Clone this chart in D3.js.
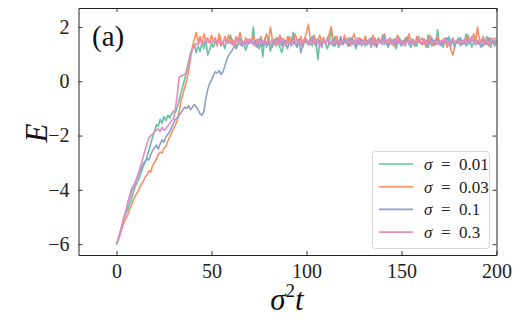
<!DOCTYPE html>
<html>
<head>
<meta charset="utf-8">
<script src="https://cdn.jsdelivr.net/npm/d3@7"></script>
<style>
  body { margin: 0; background: #fff; }
  svg { display: block; font-family: "Liberation Serif", "DejaVu Serif", serif; }
</style>
</head>
<body>
<div id="chart"></div>
<script>
// sample grid in sigma^2 t (one sample per unit)
const times = d3.range(0, 201);

const sigmaLabels = ["0.01", "0.03", "0.1", "0.3"];
const colors = ["#66c2a5", "#fc8d62", "#8da0cb", "#e78ac3"];

const xTicks = [0, 50, 100, 150, 200];
const yTicks = [-6, -4, -2, 0, 2];

const eSigma001 = [
  -6.00,-5.78,-5.55,-5.30,-5.05,-4.85,-4.70,-4.52,-4.30,-4.05,-3.85,
  -3.70,-3.55,-3.35,-3.15,-3.00,-2.80,-2.55,-2.30,-2.05,-1.85,
  -1.60,-1.65,-1.40,-1.55,-1.30,-1.45,-1.25,-1.35,-1.20,-1.10,
  -1.15,-0.95,-0.70,-0.40,-0.15,0.10,0.45,0.75,1.05,1.20,
  1.35,1.05,1.30,1.10,1.45,1.20,1.55,0.96,1.15,1.40,
  1.25,1.50,1.35,1.60,1.30,1.45,1.20,1.55,1.40,1.70,
  1.35,1.50,1.25,1.45,1.60,1.30,1.40,1.15,1.35,1.55,
  1.40,2.00,1.30,1.50,1.20,1.45,0.90,1.60,1.25,1.50,
  1.10,1.40,1.55,1.30,1.45,1.25,1.05,1.35,1.50,1.40,
  1.65,1.35,1.80,1.45,1.30,1.55,1.40,1.25,1.60,1.45,
  1.35,1.55,1.30,1.70,1.45,0.80,1.50,1.35,1.60,1.40,
  1.20,1.45,2.00,1.30,1.65,1.40,1.25,1.50,1.35,1.55,
  1.45,1.30,1.60,1.35,1.50,1.20,1.45,1.55,1.30,1.40,
  1.65,1.35,1.50,1.25,1.45,1.60,1.30,1.55,1.40,1.70,
  1.35,1.50,1.25,1.45,1.35,1.55,1.20,1.40,1.60,1.35,
  1.50,1.30,1.65,1.40,1.25,1.55,1.45,1.30,1.60,1.40,
  1.35,1.55,1.25,1.70,1.45,1.30,1.50,1.40,1.90,1.35,
  1.45,1.25,1.55,1.40,1.65,1.30,1.50,1.35,1.45,1.60,
  1.30,1.50,1.40,1.75,1.35,1.55,1.25,1.45,1.60,1.40,
  1.35,1.55,1.30,1.50,1.65,1.40,1.25,1.55,1.45,1.50
];

const eSigma003 = [
  -6.00,-5.85,-5.62,-5.40,-5.20,-5.05,-4.90,-4.70,-4.55,-4.35,-4.20,
  -4.10,-3.95,-3.80,-3.70,-3.55,-3.45,-3.30,-3.35,-3.10,-3.00,
  -2.85,-2.70,-2.60,-2.65,-2.45,-2.40,-2.20,-2.05,-1.90,-1.75,
  -1.60,-1.45,-1.10,-0.70,-0.45,-0.20,0.05,0.40,0.85,1.30,
  1.55,1.80,1.45,1.65,1.35,1.75,1.50,1.60,1.40,1.70,
  1.45,1.60,1.30,1.75,1.50,1.35,1.65,1.45,1.70,1.40,
  1.55,1.30,1.65,1.45,1.80,1.50,1.35,1.60,1.45,1.55,
  1.40,1.70,1.35,1.55,1.45,1.65,1.30,1.50,1.75,1.45,
  2.00,1.55,1.35,1.60,1.45,1.70,1.40,1.55,1.30,1.65,
  1.45,1.60,1.35,1.75,1.50,1.40,1.65,1.30,1.55,1.80,
  2.10,1.55,1.40,1.65,1.35,1.50,1.70,1.45,1.60,1.35,
  1.55,1.75,2.00,1.50,1.40,1.65,1.35,1.55,1.45,1.70,
  1.40,1.60,1.30,1.55,1.75,1.45,1.35,1.60,1.50,1.40,
  1.65,1.35,1.55,1.45,1.70,1.30,1.50,1.60,1.40,1.55,
  1.75,1.45,1.35,1.60,1.50,1.30,1.55,1.70,1.40,1.50,
  1.35,1.60,1.45,1.75,1.40,1.55,1.30,1.65,1.45,1.50,
  1.60,1.35,1.50,1.40,1.70,1.45,1.30,1.55,1.65,1.40,
  1.50,1.35,1.60,1.25,1.45,1.15,0.96,1.30,1.50,1.40,
  1.60,1.35,1.55,1.45,1.70,1.40,1.55,1.75,1.45,2.00,
  1.55,1.40,1.65,1.35,1.50,1.30,1.60,1.45,1.35,1.55
];

const eSigma01 = [
  -6.00,-5.80,-5.55,-5.30,-5.00,-4.80,-4.45,-4.20,-3.95,-3.85,-3.70,
  -3.55,-3.35,-3.20,-3.05,-2.95,-2.85,-2.90,-2.70,-2.55,-2.45,
  -2.35,-2.50,-2.30,-2.15,-2.25,-2.05,-1.95,-1.85,-1.70,-1.55,
  -1.40,-1.35,-1.25,-1.15,-1.05,-0.95,-1.00,-0.90,-1.05,-0.95,
  -0.85,-0.95,-1.05,-1.20,-1.25,-1.10,-0.65,-0.30,-0.10,0.05,
  0.20,0.35,0.30,0.40,0.25,0.35,0.55,0.80,0.95,1.05,
  1.15,1.30,1.20,1.35,1.40,1.30,1.45,1.35,1.50,1.40,
  1.55,1.35,1.50,1.25,1.45,1.60,1.30,1.45,1.35,1.55,
  1.40,1.25,1.50,1.35,1.60,1.45,1.30,1.55,1.40,1.20,
  1.45,1.35,1.60,1.40,1.25,1.50,1.05,1.30,1.45,1.55,
  1.35,1.50,1.65,1.40,1.30,1.55,1.45,1.25,1.50,1.40,
  1.60,1.35,1.45,1.55,1.30,1.50,1.40,1.65,1.35,1.45,
  1.55,1.30,1.45,1.60,1.40,1.25,1.50,1.35,1.55,1.45,
  1.30,1.50,1.40,1.60,1.35,1.45,1.25,1.55,1.40,1.50,
  1.65,1.40,1.30,1.50,1.45,1.55,1.35,1.60,1.40,1.30,
  1.50,1.45,1.60,1.35,1.55,1.40,1.30,1.50,1.65,1.45,
  1.35,1.55,1.40,1.25,1.50,1.60,1.40,1.35,1.55,1.45,
  1.30,1.50,1.40,1.60,1.35,1.45,1.55,1.25,1.50,1.40,
  1.60,1.35,1.45,1.30,1.55,1.40,1.65,1.45,1.35,1.50,
  1.40,1.25,1.55,1.45,1.35,1.60,1.40,1.50,1.30,1.45
];

const eSigma03 = [
  -6.00,-5.80,-5.55,-5.25,-5.00,-4.75,-4.50,-4.30,-4.05,-3.90,-3.70,
  -3.50,-3.30,-3.05,-2.80,-2.55,-2.30,-2.10,-2.00,-1.95,-1.85,
  -1.80,-1.75,-1.85,-1.70,-1.80,-1.75,-1.65,-1.55,-1.45,-1.40,
  -1.00,-0.50,0.15,0.20,0.22,0.25,0.35,0.65,0.95,1.20,
  1.25,1.40,1.35,1.50,1.45,1.40,1.55,1.45,1.50,1.40,
  1.45,1.55,1.40,1.50,1.35,1.45,1.55,1.40,1.50,1.45,
  1.35,1.50,1.45,1.60,1.40,1.50,1.35,1.45,1.55,1.40,
  1.50,1.40,1.30,1.45,1.55,1.40,1.50,1.35,1.45,1.50,
  1.40,1.55,1.45,1.35,1.50,1.40,1.60,1.45,1.35,1.50,
  1.45,1.30,1.50,1.40,1.55,1.45,1.35,1.50,1.40,1.55,
  1.45,1.35,1.50,1.40,1.55,1.45,1.30,1.45,1.50,1.40,
  1.55,1.45,1.35,1.50,1.40,1.55,1.45,1.35,1.50,1.45,
  1.40,1.55,1.45,1.35,1.50,1.40,1.60,1.45,1.35,1.50,
  1.45,1.40,1.55,1.35,1.50,1.45,1.40,1.55,1.45,1.35,
  1.50,1.40,1.55,1.45,1.35,1.50,1.45,1.60,1.40,1.50,
  1.45,1.35,1.50,1.40,1.55,1.45,1.35,1.50,1.60,1.45,
  1.40,1.50,1.35,1.45,1.55,1.40,1.50,1.45,1.35,1.50,
  1.45,1.55,1.40,1.50,1.35,1.45,1.60,1.40,1.50,1.45,
  1.35,1.50,1.45,1.55,1.40,1.50,1.60,1.45,1.35,1.50,
  1.45,1.40,1.55,1.45,1.50,1.35,1.45,1.55,1.60,1.50
];

const seriesValues = [eSigma001, eSigma003, eSigma01, eSigma03];

const width = 523, height = 327;
const margin = { top: 8, right: 26.5, bottom: 72, left: 78.5 };

const svg = d3.select("#chart")
  .append("svg")
  .attr("width", width)
  .attr("height", height);

const x = d3.scaleLinear()
  .domain([-20, 200])
  .range([margin.left, width - margin.right]);

const y = d3.scaleLinear()
  .domain([-6.4, 2.7])
  .range([height - margin.bottom, margin.top]);

// clip so lines stay inside the frame
svg.append("clipPath").attr("id", "plot-clip")
  .append("rect")
  .attr("x", margin.left).attr("y", margin.top)
  .attr("width", x.range()[1] - x.range()[0])
  .attr("height", y.range()[0] - y.range()[1]);

const line = d3.line()
  .x((d, i) => x(times[i]))
  .y(d => y(d));

svg.append("g")
  .attr("clip-path", "url(#plot-clip)")
  .selectAll("path")
  .data(seriesValues)
  .join("path")
  .attr("fill", "none")
  .attr("stroke", (d, i) => colors[i])
  .attr("stroke-width", 1.6)
  .attr("stroke-linejoin", "round")
  .attr("d", line);

// axes, ticks pointing inward on all four sides
const fmt = d => d < 0 ? "\u2212" + Math.abs(d) : String(d);

const axBottom = svg.append("g")
  .attr("transform", `translate(0,${y.range()[0]})`)
  .call(d3.axisBottom(x).tickValues(xTicks).tickFormat(fmt).tickSizeInner(-4).tickSizeOuter(0).tickPadding(9));
const axTop = svg.append("g")
  .attr("transform", `translate(0,${y.range()[1]})`)
  .call(d3.axisTop(x).tickValues(xTicks).tickFormat("").tickSizeInner(-4).tickSizeOuter(0));
const axLeft = svg.append("g")
  .attr("transform", `translate(${x.range()[0]},0)`)
  .call(d3.axisLeft(y).tickValues(yTicks).tickFormat(fmt).tickSizeInner(-4).tickSizeOuter(0).tickPadding(9));
const axRight = svg.append("g")
  .attr("transform", `translate(${x.range()[1]},0)`)
  .call(d3.axisRight(y).tickValues(yTicks).tickFormat("").tickSizeInner(-4).tickSizeOuter(0));

[axBottom, axTop, axLeft, axRight].forEach(g => {
  g.select(".domain").attr("stroke", "#222").attr("stroke-width", 1);
  g.selectAll(".tick line").attr("stroke", "#222").attr("stroke-width", 0.9);
  g.selectAll(".tick text")
    .attr("fill", "#222")
    .style("font-family", "'Liberation Serif', serif")
    .style("font-size", "20px");
});

// axis titles
svg.append("text")
  .attr("x", 287)
  .attr("y", 310)
  .attr("text-anchor", "middle")
  .style("font-size", "31px")
  .attr("fill", "#111")
  .call(t => {
    t.append("tspan").style("font-style", "italic").text("\u03c3");
    t.append("tspan").attr("dy", -13).style("font-size", "19px").text("2");
    t.append("tspan").attr("dy", 13).style("font-style", "italic").text("t");
  });

svg.append("text")
  .attr("transform", "translate(47,133) rotate(-90)")
  .attr("text-anchor", "middle")
  .style("font-size", "31px")
  .style("font-style", "italic")
  .attr("fill", "#111")
  .text("E");

// panel label
svg.append("text")
  .attr("x", 92)
  .attr("y", 46)
  .style("font-size", "29px")
  .attr("fill", "#111")
  .text("(a)");

// legend
const legend = svg.append("g");
legend.append("rect")
  .attr("x", 372.5).attr("y", 151.5)
  .attr("width", 117).attr("height", 97)
  .attr("rx", 3)
  .attr("fill", "#fff").attr("fill-opacity", 0.8)
  .attr("stroke", "#d6d6d6");

const rows = legend.selectAll("g.row")
  .data(sigmaLabels)
  .join("g")
  .attr("class", "row")
  .attr("transform", (d, i) => `translate(0,${164 + i * 22.7})`);

rows.append("line")
  .attr("x1", 379).attr("x2", 413)
  .attr("stroke", (d, i) => colors[i])
  .attr("stroke-width", 1.6);

rows.append("text")
  .attr("x", 424)
  .attr("y", 6)
  .style("font-size", "17px")
  .attr("fill", "#222")
  .call(t => {
    t.append("tspan").style("font-style", "italic").text("\u03c3");
    t.append("tspan").text(d => "\u2002=\u2002" + d);
  });
</script>
</body>
</html>
